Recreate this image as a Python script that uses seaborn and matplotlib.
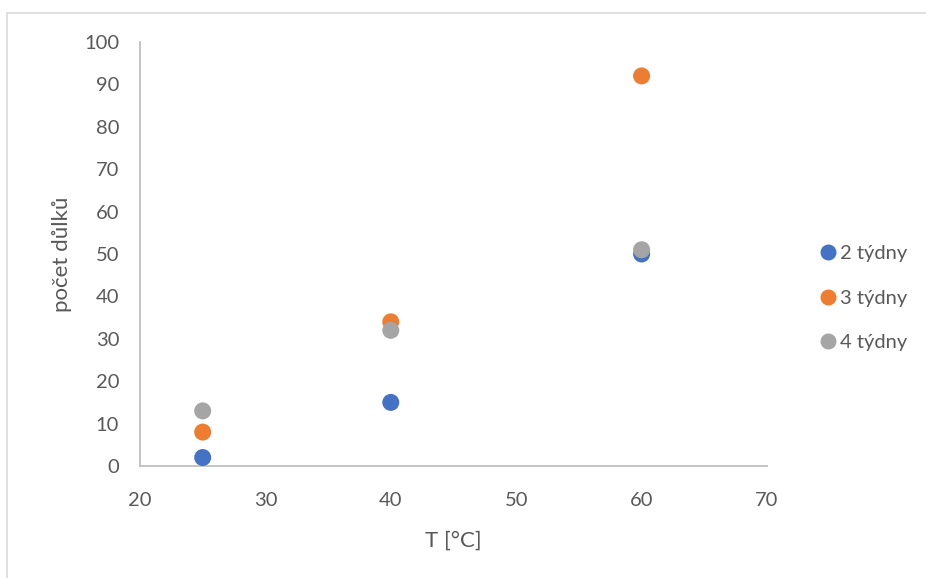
import numpy as np
import pandas as pd
import matplotlib
matplotlib.use('Agg')
import matplotlib.pyplot as plt
import seaborn as sns
from matplotlib.lines import Line2D

teploty = [25, 40, 60]
tydny_2 = [2, 15, 50]
tydny_3 = [8, 34, 92]
tydny_4 = [13, 32, 51]
serie = ['2 týdny', '3 týdny', '4 týdny']
barvy = ['#4472C4', '#ED7D31', '#A5A5A5']

df = pd.DataFrame({
    'T': teploty * 3,
    'pocet': tydny_2 + tydny_3 + tydny_4,
    'serie': [s for s in serie for _ in teploty],
})

sns.set_style('white')
plt.rcParams['font.family'] = ['Lato', 'DejaVu Sans']
text_col = '#595959'

fig = plt.figure(figsize=(9.26, 5.78), dpi=100)
ax = fig.add_axes([140 / 926, 1 - 466 / 578, (767 - 140) / 926, (466 - 42) / 578])

sns.scatterplot(data=df, x='T', y='pocet', hue='serie', palette=barvy,
                s=150, linewidth=0, ax=ax, legend=False, zorder=3)

ax.set_xlim(20, 70)
ax.set_ylim(0, 100)
ax.set_xticks(np.arange(20, 71, 10))
ax.set_yticks(np.arange(0, 101, 10))
ax.tick_params(axis='both', length=0, labelsize=14.5, labelcolor=text_col)
ax.tick_params(axis='x', pad=19)
ax.tick_params(axis='y', pad=15)
for side in ['top', 'right']:
    ax.spines[side].set_visible(False)
for side in ['left', 'bottom']:
    ax.spines[side].set_color('#BFBFBF')
    ax.spines[side].set_linewidth(1.3)
ax.spines['left'].set_zorder(1)

ax.set_xlabel('T [°C]', fontsize=16, color=text_col, labelpad=15)
ax.set_ylabel('počet důlků', fontsize=16, color=text_col, labelpad=9)

handles = [Line2D([], [], marker='o', linestyle='', color=c, markersize=10.5) for c in barvy]
leg = fig.legend(handles, serie, loc='center left', bbox_to_anchor=(806 / 926, 1 - 298 / 578),
                 frameon=False, fontsize=14.5, labelspacing=1.38, handletextpad=0.0,
                 handlelength=1.2, borderpad=0)
for t in leg.get_texts():
    t.set_color(text_col)

# light frame of the chart area
fig.add_artist(Line2D([7 / 926, 1.0], [1 - 13 / 578, 1 - 13 / 578], color='#D9D9D9', lw=1.2,
                      transform=fig.transFigure))
fig.add_artist(Line2D([7 / 926, 7 / 926], [0, 1 - 13 / 578], color='#D9D9D9', lw=1.2,
                      transform=fig.transFigure))

fig.savefig('out.png', dpi=100)
